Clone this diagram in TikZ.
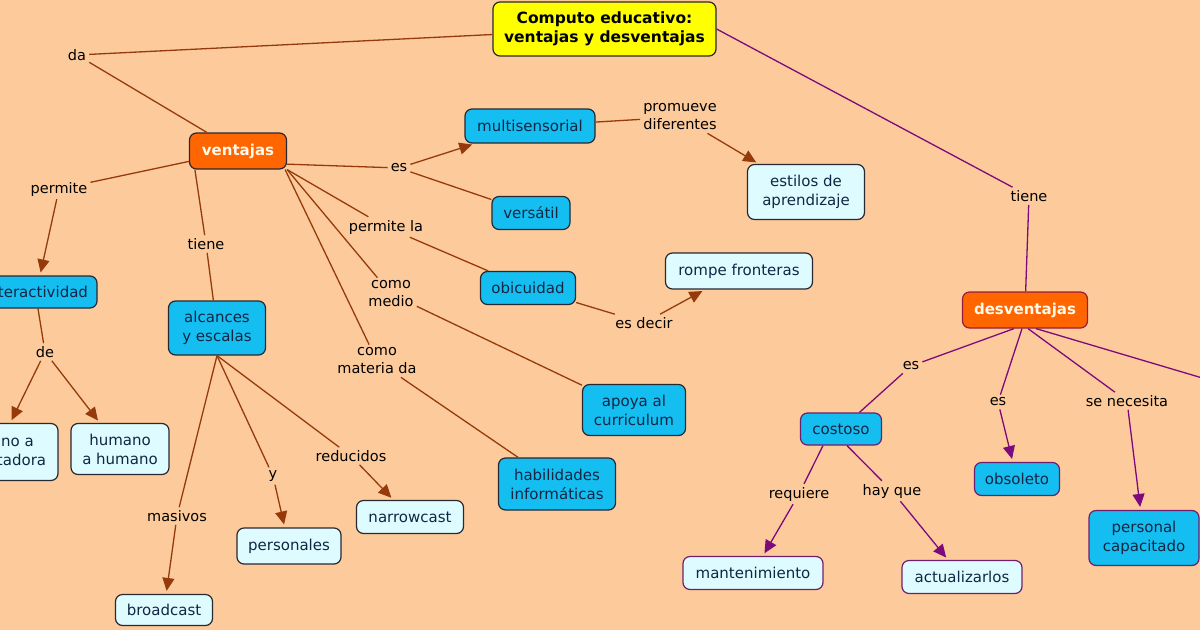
\documentclass[tikz,border=0pt]{standalone}
\usepackage{fontspec}
\setmainfont{DejaVu Sans}
\usetikzlibrary{arrows.meta}
\definecolor{bg}{RGB}{253,203,155}
\definecolor{brownline}{RGB}{150,58,12}
\definecolor{purpleline}{RGB}{125,10,125}
\definecolor{darkblue}{RGB}{20,190,240}
\definecolor{lightcyan}{RGB}{222,252,255}
\definecolor{orangefill}{RGB}{255,102,0}
\definecolor{titlefill}{RGB}{255,255,0}
\definecolor{nodetext}{RGB}{18,38,68}
\definecolor{boxline}{RGB}{40,40,50}
\definecolor{pboxline}{RGB}{110,30,110}
\definecolor{oboxline}{RGB}{150,30,60}
\definecolor{whitetext}{RGB}{255,250,235}
\tikzset{
  box/.style={draw=boxline, rounded corners=7pt, line width=1.2pt, text=nodetext,
    inner sep=2pt, align=center, font=\fontsize{15}{19}\selectfont},
  dbox/.style={box, fill=darkblue},
  lbox/.style={box, fill=lightcyan},
  pdbox/.style={dbox, draw=pboxline},
  plbox/.style={lbox, draw=pboxline},
  obox/.style={box, fill=orangefill, text=whitetext, font=\fontsize{15}{19}\selectfont\bfseries},
  lbl/.style={inner sep=3pt, align=center, text=black, font=\fontsize{14.5}{18}\selectfont},
  br/.style={draw=brownline, line width=1.3pt},
  brarr/.style={br, -{Triangle[length=13pt,width=12pt]}, shorten >=3pt},
  pu/.style={draw=purpleline, line width=1.3pt},
  puarr/.style={pu, -{Triangle[length=13pt,width=12pt]}, shorten >=3pt}
}
\begin{document}
\begin{tikzpicture}[x=1pt,y=-1pt]
\useasboundingbox (0,0) rectangle (1200,630);
\clip (0,0) rectangle (1200,630);
\fill[bg] (0,0) rectangle (1200,630);

% concept nodes
\node[box, fill=titlefill, text=black, font=\fontsize{15.5}{19.5}\selectfont\bfseries,
  minimum width=223pt, minimum height=54pt] (title) at (604.5,29) {Computo educativo:\\ventajas y desventajas};
\node[obox, minimum width=97pt, minimum height=36pt] (ven) at (238,151) {ventajas};
\node[dbox, minimum width=130pt, minimum height=34pt] (multi) at (530,126) {multisensorial};
\node[lbox, minimum width=117pt, minimum height=55pt] (estilos) at (806,192) {estilos de\\aprendizaje};
\node[dbox, minimum width=78pt, minimum height=33pt] (vers) at (531,213) {versátil};
\node[dbox, minimum width=95pt, minimum height=33pt] (obic) at (528,288) {obicuidad};
\node[lbox, minimum width=147pt, minimum height=36pt] (rompe) at (739,271) {rompe fronteras};
\node[dbox, minimum width=103pt, minimum height=51pt] (apoya) at (634,410) {apoya al\\curriculum};
\node[dbox, minimum width=117pt, minimum height=52pt] (habil) at (557,484) {habilidades\\informáticas};
\node[dbox, minimum width=130pt, minimum height=32pt, text width=112pt, align=right] (inter) at (32,292) {interactividad};
\node[lbox, minimum width=124pt, minimum height=57pt] (hac) at (-4,452) {humano a\\computadora};
\node[lbox, minimum width=98pt, minimum height=51pt] (hah) at (120,449) {humano\\a humano};
\node[dbox, minimum width=97pt, minimum height=54pt] (alc) at (217,328) {alcances\\y escalas};
\node[lbox, minimum width=97pt, minimum height=31pt] (broad) at (164,610) {broadcast};
\node[lbox, minimum width=104pt, minimum height=36pt] (pers) at (289,546) {personales};
\node[lbox, minimum width=107pt, minimum height=33pt] (narrow) at (410,517) {narrowcast};
\node[obox, draw=oboxline, minimum width=125pt, minimum height=36pt] (desv) at (1025,310) {desventajas};
\node[pdbox, minimum width=81pt, minimum height=32pt] (cost) at (841,429) {costoso};
\node[pdbox, minimum width=85pt, minimum height=33pt] (obso) at (1017,479) {obsoleto};
\node[pdbox, minimum width=110pt, minimum height=55pt] (perscap) at (1144,538) {personal\\capacitado};
\node[plbox, minimum width=140pt, minimum height=33pt] (mant) at (753,573) {mantenimiento};
\node[plbox, minimum width=120pt, minimum height=33pt] (actu) at (962,577) {actualizarlos};

% linking phrases
\node[lbl] (lda) at (77,55) {da};
\node[lbl] (lpermite) at (59,189) {permite};
\node[lbl] (ltiene) at (206,244) {tiene};
\node[lbl] (les) at (399,168) {es};
\node[lbl] (lpermla) at (386,227) {permite la};
\node[lbl] (lmedio) at (391,294) {como\\medio};
\node[lbl] (lmateria) at (377,361) {como\\materia da};
\node[lbl] (lprom) at (680,117) {promueve\\diferentes};
\node[lbl] (lesdecir) at (644,323) {es decir};
\node[lbl] (lde) at (45,352) {de};
\node[lbl] (lmasivos) at (177,516) {masivos};
\node[lbl] (ly) at (273,476) {y};
\node[lbl] (lreduc) at (351,456) {reducidos};
\node[lbl] (ltiene2) at (1029,196) {tiene};
\node[lbl] (les2) at (911,366) {es};
\node[lbl] (les3) at (998,402) {es};
\node[lbl] (lsenec) at (1127,401) {se necesita};
\node[lbl] (lreq) at (799,494) {requiere};
\node[lbl] (lhay) at (892,491) {hay que};
\coordinate (offR) at (1300,407);

% ventajas branch (brown)
\draw[br] (title) -- (lda);
\draw[br] (lda) -- (ven);
\draw[br] (ven) -- (lpermite);
\draw[brarr] (lpermite) -- ([xshift=8pt]inter.north);
\draw[br] ([xshift=6pt]ven.south west) -- (ltiene);
\draw[br] (ltiene) -- (alc);
\draw[br] (ven.-15) -- (les);
\draw[brarr] (les) -- (multi);
\draw[br] (les) -- (vers);
\draw[br] (ven.south east) -- (lpermla);
\draw[br] (lpermla) -- (obic);
\draw[br] (ven.south east) -- (lmedio);
\draw[br] (lmedio) -- (apoya);
\draw[br] ([xshift=-2pt]ven.south east) -- (lmateria);
\draw[br] (lmateria) -- (habil);
\draw[br] (multi) -- (lprom);
\draw[brarr] (lprom) -- (estilos);
\draw[br] (obic) -- (lesdecir);
\draw[brarr] (lesdecir) -- (rompe);
\draw[br] ([xshift=6pt]inter.south) -- (lde);
\draw[brarr] (lde) -- (hac);
\draw[brarr] (lde) -- (hah);
\draw[br] (alc.south) -- (lmasivos);
\draw[brarr] (lmasivos) -- (broad);
\draw[br] (alc.south) -- (ly);
\draw[brarr] (ly) -- (pers);
\draw[br] (alc.south) -- (lreduc);
\draw[brarr] (lreduc) -- (narrow);

% desventajas branch (purple)
\draw[pu] (title.east) -- (ltiene2);
\draw[pu] (ltiene2) -- (desv);
\draw[pu] ([xshift=-11pt]desv.south) -- (les2);
\draw[pu] (les2) -- (cost);
\draw[pu] ([xshift=-3pt]desv.south) -- (les3);
\draw[puarr] (les3) -- (obso);
\draw[pu] ([xshift=3pt]desv.south) -- (lsenec);
\draw[puarr] (lsenec) -- (perscap);
\draw[pu] ([xshift=11pt]desv.south) -- (offR);
\draw[pu] ([xshift=-18pt]cost.south) -- (lreq);
\draw[puarr] (lreq) -- (mant);
\draw[pu] ([xshift=6pt]cost.south) -- (lhay);
\draw[puarr] (lhay) -- (actu);
\end{tikzpicture}
\end{document}
